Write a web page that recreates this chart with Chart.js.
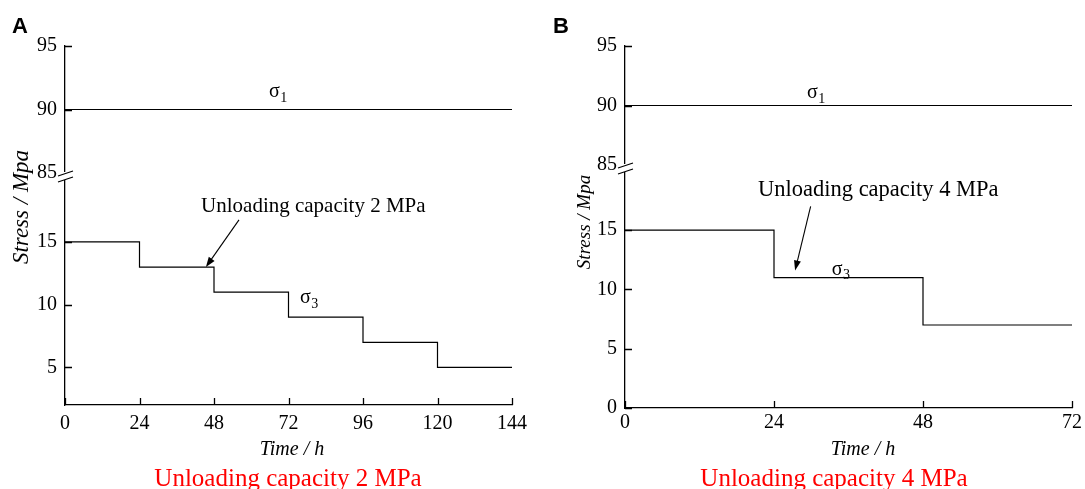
<!DOCTYPE html>
<html lang="en">
<head>
<meta charset="UTF-8">
<title>Stress path under stepwise unloading</title>
<script src="https://cdn.jsdelivr.net/npm/chart.js"></script>
<style>
  body { margin: 0; background: #fff; }
  .panel { position: absolute; top: 0; height: 489px; }
  #wrapA { left: 0; width: 540px; }
  #wrapB { left: 540px; width: 545px; }
</style>
</head>
<body>
<div class="panel" id="wrapA"><canvas id="chartA" width="540" height="489"></canvas></div>
<div class="panel" id="wrapB"><canvas id="chartB" width="545" height="489"></canvas></div>

<script>
  // time (h) at each unloading step and the stresses (MPa) held after it
  const timeA   = [0, 24, 48, 72, 96, 120, 144];
  const sigma1A = [90, 90, 90, 90, 90, 90, 90];
  const sigma3A = [15, 13, 11, 9, 7, 5, 5];

  const timeB   = [0, 24, 48, 72];
  const sigma1B = [90, 90, 90, 90];
  const sigma3B = [15, 11, 7, 7];

  // y tick labels above and below the axis break
  const upperTicks  = [85, 90, 95];
  const lowerTicksA = [5, 10, 15];
  const lowerTicksB = [0, 5, 10, 15];

  const SERIF = '"Liberation Serif", "Times New Roman", serif';
  const SANS = '"Liberation Sans", Arial, sans-serif';

  function sigmaLabel(ctx, px, py, sub, size) {
    ctx.font = size + 'px ' + SERIF;
    ctx.textAlign = 'left';
    ctx.textBaseline = 'alphabetic';
    ctx.fillText('σ', px, py);
    const w = ctx.measureText('σ').width;
    ctx.font = Math.round(size * 0.68) + 'px ' + SERIF;
    ctx.fillText(sub, px + w + 0.5, py + size * 0.22);
  }

  // inward ticks, axis break, titles and labels
  const deco = {
    id: 'deco',
    afterDraw(chart, args, o) {
      const ctx = chart.ctx;
      const x = chart.scales.x, up = chart.scales.yUp, lo = chart.scales.yLo;
      const ax = x.left;
      ctx.save();
      ctx.strokeStyle = '#000';
      ctx.fillStyle = '#000';
      ctx.lineWidth = 1.3;

      ctx.beginPath();
      up.ticks.forEach(t => {
        if (t.value === up.min) return;
        const py = Math.round(up.getPixelForValue(t.value)) + 0.5;
        ctx.moveTo(ax, py); ctx.lineTo(ax + 7, py);
      });
      lo.ticks.forEach(t => {
        const py = Math.round(lo.getPixelForValue(t.value)) + 0.5;
        ctx.moveTo(ax, py); ctx.lineTo(ax + 7, py);
      });
      x.ticks.forEach(t => {
        const px = Math.round(x.getPixelForValue(t.value)) + 0.5;
        ctx.moveTo(px, x.top); ctx.lineTo(px, x.top - 7);
      });
      ctx.stroke();

      // axis break marks
      const b = up.bottom;
      ctx.fillStyle = '#fff';
      ctx.fillRect(ax - 2, b - 1, 4, 8);
      ctx.fillStyle = '#000';
      ctx.beginPath();
      ctx.moveTo(ax - 7, b + 3); ctx.lineTo(ax + 8, b - 2);
      ctx.moveTo(ax - 7, b + 9); ctx.lineTo(ax + 8, b + 4);
      ctx.stroke();

      // panel letter
      ctx.font = 'bold 22px ' + SANS;
      ctx.textAlign = 'left';
      ctx.textBaseline = 'alphabetic';
      ctx.fillText(o.letter.text, o.letter.x, o.letter.y);

      // axis titles
      ctx.font = 'italic ' + o.yTitle.size + 'px ' + SERIF;
      ctx.textAlign = 'center';
      ctx.textBaseline = 'middle';
      ctx.save();
      ctx.translate(o.yTitle.x, o.yTitle.y);
      ctx.rotate(-Math.PI / 2);
      ctx.fillText('Stress / Mpa', 0, 0);
      ctx.restore();

      ctx.font = 'italic ' + o.xTitle.size + 'px ' + SERIF;
      ctx.textBaseline = 'alphabetic';
      ctx.fillText('Time / h', o.xTitle.x, o.xTitle.y);

      // stress labels
      o.sigmas.forEach(s => {
        const sc = chart.scales[s.scale];
        sigmaLabel(ctx, x.getPixelForValue(s.x), sc.getPixelForValue(s.y), s.sub, 20);
      });

      // unloading note with arrow
      const n = o.note;
      ctx.font = n.size + 'px ' + SERIF;
      ctx.textAlign = 'center';
      ctx.textBaseline = 'alphabetic';
      ctx.fillText(n.text, x.getPixelForValue(n.x), lo.getPixelForValue(n.y));

      const x1 = x.getPixelForValue(n.from[0]), y1 = lo.getPixelForValue(n.from[1]);
      const x2 = x.getPixelForValue(n.to[0]), y2 = lo.getPixelForValue(n.to[1]);
      const ang = Math.atan2(y2 - y1, x2 - x1);
      ctx.lineWidth = 1.1;
      ctx.beginPath();
      ctx.moveTo(x1, y1);
      ctx.lineTo(x2 - 6 * Math.cos(ang), y2 - 6 * Math.sin(ang));
      ctx.stroke();
      ctx.beginPath();
      ctx.moveTo(x2, y2);
      ctx.lineTo(x2 - 10 * Math.cos(ang) + 3.5 * Math.sin(ang), y2 - 10 * Math.sin(ang) - 3.5 * Math.cos(ang));
      ctx.lineTo(x2 - 10 * Math.cos(ang) - 3.5 * Math.sin(ang), y2 - 10 * Math.sin(ang) + 3.5 * Math.cos(ang));
      ctx.closePath();
      ctx.fill();

      // red caption below the panel
      ctx.fillStyle = '#ff0000';
      ctx.font = o.caption.size + 'px ' + SERIF;
      ctx.textAlign = 'center';
      ctx.fillText(o.caption.text, o.caption.x, o.caption.y);
      ctx.restore();
    }
  };

  function yScale(weight, min, max, ticks, width) {
    return {
      type: 'linear',
      position: 'left',
      stack: 'stress',
      stackWeight: weight,
      min: min,
      max: max,
      grid: { display: false, drawTicks: false },
      border: { color: '#000', width: 1.3 },
      ticks: { color: '#000', padding: 8, font: { family: SERIF, size: 20 } },
      afterBuildTicks: s => { s.ticks = ticks.map(v => ({ value: v })); },
      afterFit: s => { s.width = width; }
    };
  }

  function makePanel(id, p) {
    const line = (t, v) => t.map((tt, i) => ({ x: tt, y: v[i] }));
    new Chart(document.getElementById(id), {
      type: 'line',
      data: {
        datasets: [
          { label: 'σ1', data: line(p.time, p.sigma1), yAxisID: 'yUp',
            borderColor: '#000', borderWidth: 1.2, pointRadius: 0, fill: false },
          { label: 'σ3', data: line(p.time, p.sigma3), yAxisID: 'yLo', stepped: 'before',
            borderColor: '#000', borderWidth: 1.2, pointRadius: 0, fill: false }
        ]
      },
      options: {
        responsive: false,
        animation: false,
        layout: { padding: { left: 0, right: p.padRight, top: 46, bottom: 0 } },
        plugins: { legend: { display: false }, tooltip: { enabled: false }, deco: p.deco },
        scales: {
          x: {
            type: 'linear',
            min: 0,
            max: p.time[p.time.length - 1],
            grid: { display: false, drawTicks: false },
            border: { color: '#000', width: 1.3 },
            ticks: { color: '#000', padding: p.xPad, maxRotation: 0, font: { family: SERIF, size: 20 } },
            afterBuildTicks: s => { s.ticks = p.time.map(v => ({ value: v })); },
            afterFit: s => { s.height = p.xHeight; }
          },
          // stacked scales are laid out bottom-up, so the lower range comes first
          yLo: yScale(p.wLo, p.loMin, 20.5, p.lowerTicks, p.yWidth),
          yUp: yScale(p.wUp, 85, 95, upperTicks, p.yWidth)
        }
      },
      plugins: [deco]
    });
  }

  makePanel('chartA', {
    time: timeA, sigma1: sigma1A, sigma3: sigma3A, lowerTicks: lowerTicksA,
    loMin: 2, wUp: 127, wLo: 232, yWidth: 65, padRight: 28, xHeight: 84, xPad: 7,
    deco: {
      letter: { text: 'A', x: 12, y: 33 },
      yTitle: { x: 22, y: 207, size: 23 },
      xTitle: { x: 292, y: 455, size: 20 },
      caption: { text: 'Unloading capacity 2 MPa', x: 288, y: 486, size: 25 },
      sigmas: [
        { sub: '1', scale: 'yUp', x: 65.7, y: 90.95 },
        { sub: '3', scale: 'yLo', x: 75.7, y: 10.1 }
      ],
      note: { text: 'Unloading capacity 2 MPa', size: 21, x: 80, y: 17.4,
              from: [56.05, 16.76], to: [45.4, 13] }
    }
  });

  makePanel('chartB', {
    time: timeB, sigma1: sigma1B, sigma3: sigma3B, lowerTicks: lowerTicksB,
    loMin: 0, wUp: 119, wLo: 243, yWidth: 85, padRight: 12, xHeight: 81, xPad: 3,
    deco: {
      letter: { text: 'B', x: 13, y: 33 },
      yTitle: { x: 45, y: 222, size: 19 },
      xTitle: { x: 323, y: 455, size: 20 },
      caption: { text: 'Unloading capacity 4 MPa', x: 294, y: 486, size: 25 },
      sigmas: [
        { sub: '1', scale: 'yUp', x: 29.3, y: 90.6 },
        { sub: '3', scale: 'yLo', x: 33.3, y: 11.25 }
      ],
      note: { text: 'Unloading capacity 4 MPa', size: 22.5, x: 40.8, y: 17.9,
              from: [29.9, 17.0], to: [27.4, 11.6] }
    }
  });
</script>
</body>
</html>
